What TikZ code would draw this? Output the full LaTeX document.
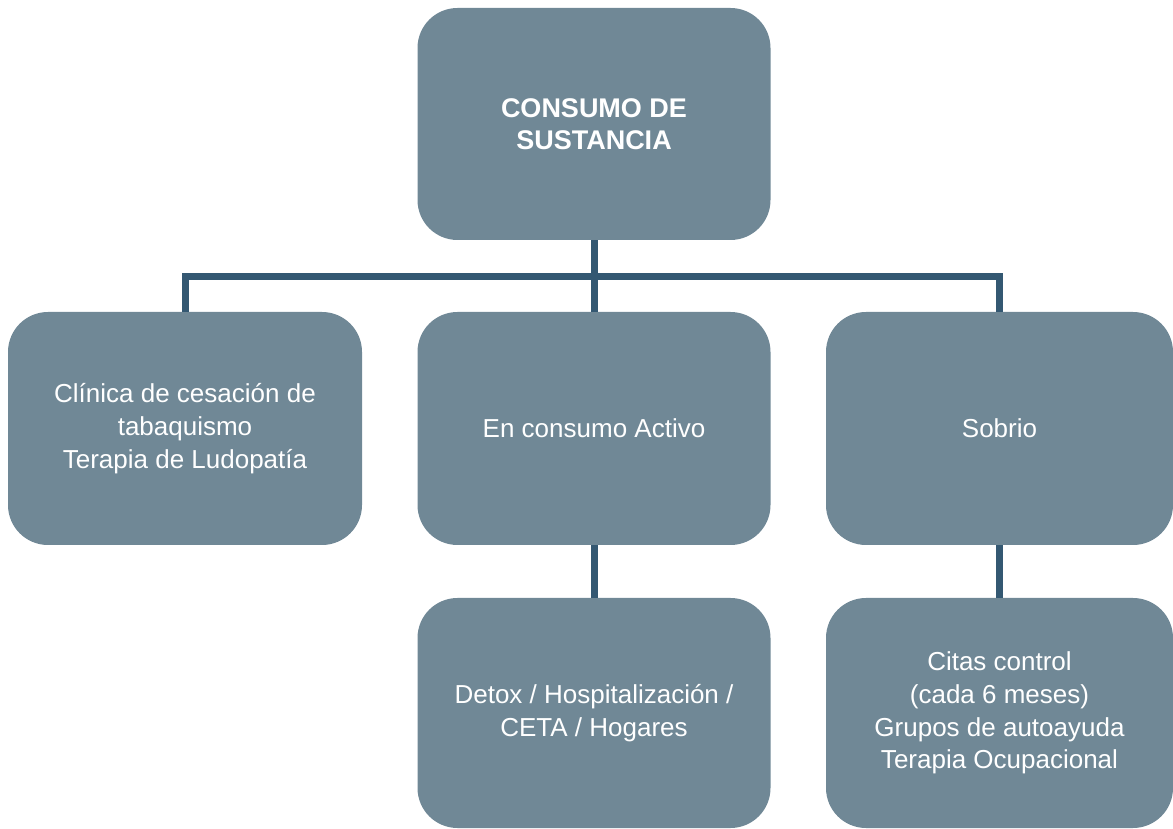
\documentclass[tikz,border=0pt]{standalone}
\usepackage{fontspec}
\setmainfont{Liberation Sans}
\usepackage{tikz}
\definecolor{boxfill}{HTML}{708896}
\definecolor{linkcol}{HTML}{345872}
\tikzstyle{box} = [rectangle, rounded corners=40pt, fill=boxfill, text=white, align=center, inner sep=0pt, minimum width=353pt, minimum height=232pt, font=\fontsize{26}{32.7}\selectfont]
\tikzstyle{link} = [line width=7pt, draw=linkcol]

\begin{document}
\begin{tikzpicture}[x=1pt,y=1pt]
		\clip (0,0) rectangle (1173,828);
		\node[box, font=\fontsize{27}{32.5}\selectfont\bfseries] (top) at (594,704) {CONSUMO DE\\SUSTANCIA};
		\node[box, minimum width=354pt, minimum height=233pt] (tabaco) at (185,399.5) {Cl\'inica de cesaci\'on de\\tabaquismo\\Terapia de Ludopat\'ia};
		\node[box, minimum height=233pt] (activo) at (594,399.5) {En consumo Activo};
		\node[box, minimum width=347pt, minimum height=233pt] (sobrio) at (999.5,399.5) {Sobrio};
		\node[box, minimum height=230pt] (detox) at (594,115) {Detox / Hospitalizaci\'on /\\CETA / Hogares};
		\node[box, minimum width=347pt, minimum height=230pt] (citas) at (999.5,115) {Citas control\\(cada 6 meses)\\Grupos de autoayuda\\Terapia Ocupacional};
		\coordinate (bus) at (594,551);
		\draw[link] (top) -- (activo);
		\draw[link] (tabaco.north) |- (bus) -| (sobrio.north);
		\draw[link] (activo) -- (detox);
		\draw[link] (sobrio) -- (citas);
	\end{tikzpicture}
\end{document}
